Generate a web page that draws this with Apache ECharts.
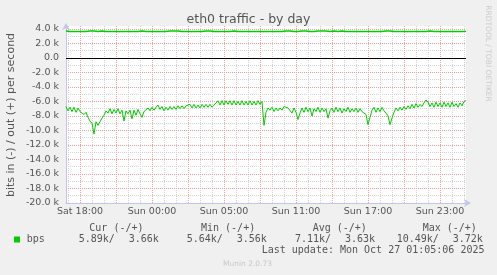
<!DOCTYPE html>
<html>
<head>
<meta charset="utf-8">
<script src="https://cdn.jsdelivr.net/npm/echarts@6/dist/echarts.min.js"></script>
<style>
html,body{margin:0;padding:0;background:#f0f0f0;}
#chart{width:497px;height:275px;}
</style>
</head>
<body>
<div id="chart"></div>
<script>
// ---- data (values in k bits per second) ----
const titleText = 'eth0 traffic - by day';
const yAxisTitle = 'bits in (-) / out (+) per second';
const tickLabels = ['Sat 18:00', 'Sun 00:00', 'Sun 05:00', 'Sun 11:00', 'Sun 17:00', 'Sun 23:00'];

// in traffic (drawn negative), one value per 10 minutes
const bpsIn = [
  6.7,7.3,6.8,7.4,6.8,7.5,6.9,7.4,
  7.3,7.8,7.5,
  8.2,8.7,
  9.0,10.5,
  8.8,9.3,8.8,
  8.3,7.9,7.3,
  7.6,7.0,7.7,7.1,7.6,7.0,7.7,7.2,8.7,7.3,
  7.7,7.2,8.4,
  7.2,7.9,7.1,7.7,8.2,7.4,7.3,
  6.9,7.3,6.8,7.2,6.8,
  6.5,
  7.1,6.7,7.3,6.8,7.2,6.7,7.1,6.7,7.1,6.6,7.0,6.6,7.0,6.6,
  6.8,6.4,6.9,6.4,6.9,6.5,6.9,6.4,6.8,6.4,6.8,6.4,6.8,6.5,
  6.2,
  5.9,6.5,5.9,6.5,5.9,6.4,5.9,6.5,5.9,6.5,6.0,6.5,5.9,6.5,6.0,6.5,5.9,6.5,6.0,6.5,5.9,6.4,6.0,
  9.3,
  7.5,6.9,7.2,6.8,7.4,6.9,7.3,6.9,
  7.2,6.7,6.5,6.9,
  7.0,7.6,6.9,7.5,8.5,7.6,
  6.9,7.5,6.8,7.4,6.9,8.0,7.0,
  7.4,6.8,7.5,6.9,7.4,7.0,8.3,7.3,
  6.9,7.5,6.8,7.4,6.9,7.6,7.0,7.4,6.8,7.5,7.0,7.4,6.9,7.5,7.0,7.4,7.5,7.8,
  9.2,8.2,
  7.2,6.8,7.5,6.9,7.4,6.8,7.3,7.6,8.0,
  9.2,8.3,
  7.5,6.9,7.3,6.8,7.2,6.7,7.1,6.6,
  7.0,6.4,6.9,6.3,6.8,6.4,6.7,6.2,
  5.8,
  6.1,6.7,6.2,6.8,6.1,6.7,6.2,6.8,6.1,6.7,6.2,6.8,6.1,6.7,6.3,6.8,6.2,6.6,6.0,5.89
];

// out traffic (drawn positive)
const bpsOut = [
  3.72,3.72,3.64,3.72,3.64,3.64,3.64,3.64,3.64,3.64,
  3.64,3.72,3.72,3.64,3.72,3.64,3.64,3.64,3.72,3.64,
  3.64,3.64,3.64,3.64,3.64,3.64,3.64,3.72,3.64,3.64,
  3.64,3.64,3.64,3.72,3.64,3.64,3.64,3.72,3.72,3.64,
  3.64,3.64,3.64,3.64,3.64,3.64,3.64,3.64,3.64,3.72,
  3.64,3.72,3.72,3.64,3.72,3.64,3.72,3.72,3.64,3.64,
  3.64,3.72,3.64,3.64,3.64,3.64,3.64,3.64,3.64,3.64,
  3.72,3.64,3.72,3.72,3.64,3.72,3.64,3.72,3.64,3.64,
  3.64,3.64,3.64,3.72,3.72,3.64,3.64,3.72,3.64,3.64,
  3.64,3.72,3.64,3.64,3.64,3.64,3.64,3.56,3.64,3.64,
  3.64,3.64,3.64,3.64,3.64,3.64,3.64,3.64,3.64,3.64,
  3.72,3.64,3.72,3.64,3.64,3.64,3.64,3.64,3.72,3.64,
  3.72,3.72,3.64,3.72,3.64,3.72,3.72,3.64,3.72,3.64,
  3.72,3.64,3.64,3.64,3.72,3.72,3.64,3.64,3.72,3.64,
  3.64,3.72,3.64,3.64,3.64,3.64,3.64,3.64,3.64,3.72,
  3.64,3.72,3.64,3.64,3.64,3.64,3.64,3.64,3.64,3.64,
  3.72,3.64,3.72,3.72,3.64,3.64,3.64,3.72,3.64,3.72,
  3.64,3.72,3.64,3.64,3.64,3.64,3.64,3.64,3.64,3.72,
  3.64,3.72,3.72,3.64,3.64,3.72,3.64,3.64,3.64,3.64,
  3.64,3.72,3.64,3.72,3.64,3.64,3.64,3.64,3.64,3.66,
  3.66
];

const legendName = 'bps';
const statHeaders = ['Cur (-/+)', 'Min (-/+)', 'Avg (-/+)', 'Max (-/+)'];
const statIn = ['5.89k/', '5.64k/', '7.11k/', '10.49k/'];
const statOut = ['3.66k', '3.56k', '3.63k', '3.72k'];
const lastUpdate = 'Last update: Mon Oct 27 01:05:06 2025';
const muninVersion = 'Munin 2.0.73';
const watermark = 'RRDTOOL / TOBI OETIKER';

// categories: 10-minute steps, local time Europe/Berlin (DST ends 26 Oct 01:00 UTC)
const START_UTC = Date.UTC(2025, 9, 25, 14, 50);
const DST_END_UTC = Date.UTC(2025, 9, 26, 1, 0);
const STEP_MIN = 10;
const DAYS = ['Sun','Mon','Tue','Wed','Thu','Fri','Sat'];
const pad = n => (n < 10 ? '0' : '') + n;
const categories = [];
for (let i = 0; i < bpsOut.length; i++) {
  const t = START_UTC + i * STEP_MIN * 60000;
  const d = new Date(t + (t < DST_END_UTC ? 2 : 1) * 3600000);
  categories.push(DAYS[d.getUTCDay()] + ' ' + pad(d.getUTCHours()) + ':' + pad(d.getUTCMinutes()));
}
const firstMajor = categories.indexOf(tickLabels[0]);
const STEPS_PER_MAJOR = 3 * 60 / STEP_MIN;

// ---- styles ----
const GREEN = '#00cc00';
const RED = '#f0a0a0';
const GREY = '#d4d4d4';
const AXIS = '#c4c4ec';
const TXT = '#555555';
const Y_MIN = -20, Y_MAX = 4.4;

const chart = echarts.init(document.getElementById('chart'), null, {renderer: 'canvas'});

const monoText = (text, x, y) => ({
  type: 'text', x: x, y: y, silent: true,
  style: {text: text, fill: TXT, font: '10px "DejaVu Sans Mono"', textVerticalAlign: 'middle'}
});

const graphics = [
  {type: 'text', x: 248.5, y: 20, silent: true,
   style: {text: titleText, fill: TXT, font: '12.5px "DejaVu Sans"', textAlign: 'center', textVerticalAlign: 'middle'}},
  {type: 'text', x: 11, y: 115, rotation: Math.PI / 2, silent: true,
   style: {text: yAxisTitle, fill: TXT, font: '11px "DejaVu Sans"', textAlign: 'center', textVerticalAlign: 'middle'}},
  {type: 'text', x: 488, y: 53.5, rotation: -Math.PI / 2, silent: true,
   style: {text: watermark, fill: '#cccccc', font: '7.5px "DejaVu Sans"', textAlign: 'center', textVerticalAlign: 'middle'}},
  {type: 'rect', shape: {x: 14, y: 236.5, width: 6, height: 6}, style: {fill: GREEN}, silent: true},
  monoText(legendName, 26.7, 239.5),
  monoText(statHeaders[0], 89.3, 228),
  monoText(statHeaders[1], 201, 228),
  monoText(statHeaders[2], 312.7, 228),
  monoText(statHeaders[3], 422.7, 228),
  monoText(statIn[0], 78.7, 239.5), monoText(statOut[0], 128.7, 239.5),
  monoText(statIn[1], 186.7, 239.5), monoText(statOut[1], 236.7, 239.5),
  monoText(statIn[2], 295, 239.5), monoText(statOut[2], 345, 239.5),
  monoText(statIn[3], 396.7, 239.5), monoText(statOut[3], 452.7, 239.5),
  monoText(lastUpdate, 261.7, 250.5),
  {type: 'text', x: 223, y: 264, silent: true,
   style: {text: muninVersion, fill: '#c8c8c8', font: '7.5px "DejaVu Sans"', textVerticalAlign: 'middle'}}
];

const dotted = (color) => ({color: color, type: [1, 1], width: 1});

chart.setOption({
  animation: false,
  backgroundColor: '#f0f0f0',
  textStyle: {fontFamily: 'DejaVu Sans'},
  grid: {left: 66, right: 31, top: 26, bottom: 72, show: true, backgroundColor: '#ffffff', borderWidth: 0},
  xAxis: [
    { // minor (hourly) grid
      type: 'category', data: categories, boundaryGap: false, z: 0,
      axisLine: {show: false}, axisTick: {show: false}, axisLabel: {show: false},
      splitLine: {show: true, interval: (idx, val) => /:00$/.test(val), lineStyle: dotted(GREY)}
    },
    { // major (3-hourly) grid, axis and labels
      type: 'category', data: categories, boundaryGap: false, position: 'bottom', z: 1,
      axisLine: {show: true, onZero: false, lineStyle: {color: AXIS, width: 1}, symbol: ['none', 'arrow'], symbolSize: [6, 7], symbolOffset: [0, 5]},
      axisTick: {show: false},
      axisLabel: {
        interval: (idx, val) => tickLabels.indexOf(val) >= 0,
        color: TXT, fontSize: 9.5, margin: 4, fontFamily: 'DejaVu Sans'
      },
      splitLine: {show: true, interval: (idx) => (idx - firstMajor) % STEPS_PER_MAJOR === 0, lineStyle: dotted(RED)}
    }
  ],
  yAxis: [
    { // minor grid every 1k
      type: 'value', min: Y_MIN, max: Y_MAX, interval: 1, position: 'left', z: 0,
      axisLine: {show: false}, axisTick: {show: false}, axisLabel: {show: false},
      splitLine: {show: true, showMinLine: false, showMaxLine: false, lineStyle: dotted(GREY)}
    },
    { // major grid every 2k, axis and labels
      type: 'value', min: Y_MIN, max: Y_MAX, interval: 2, position: 'left', z: 1,
      axisLine: {show: true, onZero: false, lineStyle: {color: AXIS, width: 1}, symbol: ['none', 'arrow'], symbolSize: [6, 7], symbolOffset: [0, 3]},
      axisTick: {show: false},
      axisLabel: {
        color: TXT, fontSize: 9.5, margin: 7, fontFamily: 'DejaVu Sans', hideOverlap: false,
        formatter: v => {
          if (Math.abs(v - Math.round(v)) > 1e-6) return '';
          const r = Math.round(v);
          return r === 0 ? '0.0' : r.toFixed(1) + ' k';
        }
      },
      splitLine: {show: true, showMinLine: false, showMaxLine: false, lineStyle: dotted(RED)}
    }
  ],
  series: [
    {
      name: 'in', type: 'line', data: bpsIn.map(v => -v), xAxisIndex: 1, yAxisIndex: 1,
      symbol: 'none', lineStyle: {color: GREEN, width: 1}, itemStyle: {color: GREEN}, z: 3,
      markLine: {
        silent: true, symbol: 'none', label: {show: false},
        lineStyle: {color: '#000000', width: 1, type: 'solid'},
        data: [{yAxis: 0}], animation: false
      }
    },
    {
      name: 'out', type: 'line', data: bpsOut, xAxisIndex: 1, yAxisIndex: 1,
      symbol: 'none', lineStyle: {color: GREEN, width: 1.4}, itemStyle: {color: GREEN}, z: 4
    }
  ],
  graphic: graphics
});
</script>
</body>
</html>
